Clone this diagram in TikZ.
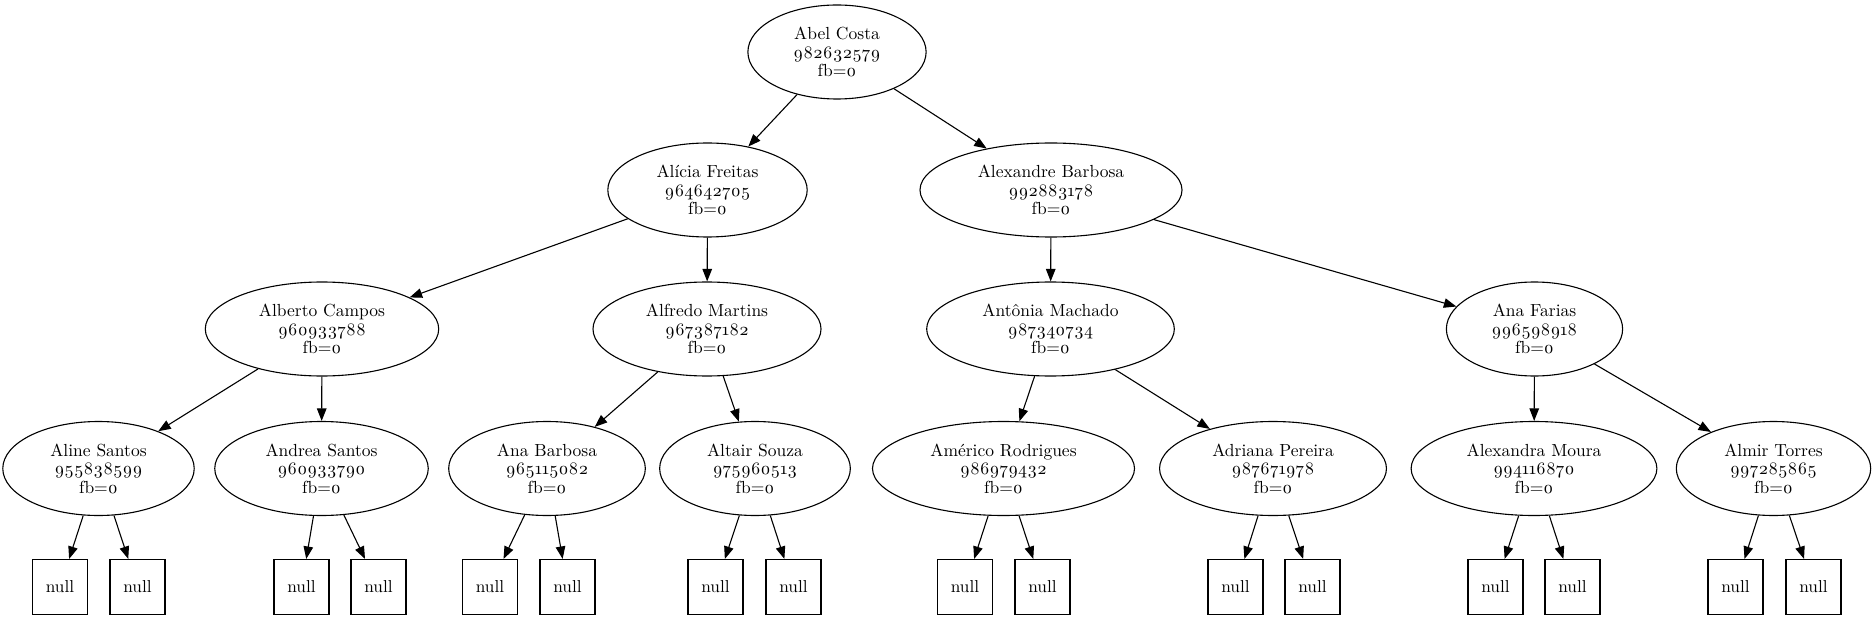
\documentclass[tikz,border=0pt]{standalone}
\usepackage{fontspec}
\setmainfont{lmroman10-regular.otf}
\usetikzlibrary{arrows.meta,shapes.geometric}
\newcommand\contato[2]{#1\\\oldstylenums{#2}\\fb=\oldstylenums{0}}
\tikzset{
  reg/.style={ellipse,draw,line width=1.1pt,align=center,inner xsep=19.5pt,inner ysep=3pt,
    minimum height=94pt,font=\fontsize{17.5}{18.5}\selectfont},
  nulo/.style={rectangle,draw,line width=1.1pt,minimum size=55pt,inner sep=0pt,
    font=\fontsize{17.3}{18}\selectfont},
  seta/.style={-{Triangle[length=12.5pt,width=9.5pt]},line width=1.1pt}
}
\begin{document}
\begin{tikzpicture}[x=1pt,y=-1pt]
  \path[use as bounding box,fill=white] (0,0) rectangle (1873,620);
  \node[reg] (abel) at (837,52) {\contato{Abel Costa}{982632579}};
  \node[reg] (alicia) at (707.5,190) {\contato{Alícia Freitas}{964642705}};
  \node[reg] (alexandre) at (1051,190) {\contato{Alexandre Barbosa}{992883178}};
  \node[reg] (alberto) at (322,329) {\contato{Alberto Campos}{960933788}};
  \node[reg] (alfredo) at (707,329) {\contato{Alfredo Martins}{967387182}};
  \node[reg] (antonia) at (1050.5,329) {\contato{Antônia Machado}{987340734}};
  \node[reg] (farias) at (1534.5,329) {\contato{Ana Farias}{996598918}};
  \node[reg] (aline) at (98.5,468.5) {\contato{Aline Santos}{955838599}};
  \node[reg] (andrea) at (321.5,468.5) {\contato{Andrea Santos}{960933790}};
  \node[reg] (barbosa) at (547,468.5) {\contato{Ana Barbosa}{965115082}};
  \node[reg] (altair) at (755,468.5) {\contato{Altair Souza}{975960513}};
  \node[reg] (americo) at (1003.5,468.5) {\contato{Américo Rodrigues}{986979432}};
  \node[reg] (adriana) at (1273,468.5) {\contato{Adriana Pereira}{987671978}};
  \node[reg] (moura) at (1534,468.5) {\contato{Alexandra Moura}{994116870}};
  \node[reg] (almir) at (1773.5,468.5) {\contato{Almir Torres}{997285865}};
  \foreach \x [count=\i] in {60,137.5,301.5,378.5,490,567.5,715.5,793.5,965,1042.5,
      1235.5,1312.5,1495.5,1572.5,1735.5,1813.5}
    \node[nulo] (n\i) at (\x,587) {null};
  \foreach \p/\c in {abel/alicia,abel/alexandre,alicia/alberto,alicia/alfredo,
      alexandre/antonia,alexandre/farias,alberto/aline,alberto/andrea,alfredo/barbosa,
      alfredo/altair,antonia/americo,antonia/adriana,farias/moura,farias/almir}
    \draw[seta] (\p) -- (\c);
  \foreach \p/\a/\b in {aline/1/2,andrea/3/4,barbosa/5/6,altair/7/8,americo/9/10,
      adriana/11/12,moura/13/14,almir/15/16}
    {\draw[seta] (\p) -- (n\a); \draw[seta] (\p) -- (n\b);}
\end{tikzpicture}
\end{document}
